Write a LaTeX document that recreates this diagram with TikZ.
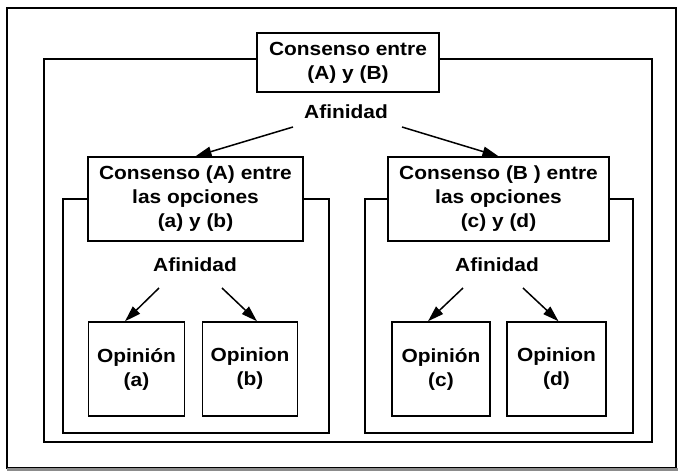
\documentclass[tikz,border=0pt]{standalone}
\usepackage{fontspec}
\setmainfont{Liberation Sans}[FakeStretch=1.1]
\usetikzlibrary{arrows.meta,calc}
\newcommand\dfs{\bfseries\fontsize{19pt}{24pt}\selectfont}
\begin{document}
\begin{tikzpicture}[x=1pt,y=-1pt,
  box/.style={draw, line width=1.5pt, inner sep=0pt, align=center, font=\dfs},
  lbl/.style={inner sep=0pt, font=\dfs},
  arr/.style={line width=1.5pt, -{Triangle[length=16pt,width=10pt]}},
  frame/.style={line width=1.5pt}]
\useasboundingbox (0,0) rectangle (680,472);
% outer frame
\draw[frame] (7,8) rectangle (676,468);
\draw[line width=3.5pt, black!45] (7,469.5) -- (678,469.5);
% top level
\node[box, minimum width=182pt, minimum height=59pt] (top) at (348,62.5) {Consenso entre\\(A) y (B)};
\node[lbl] (afT) at (346,112) {Afinidad};
\coordinate (f2) at (44,59);
\coordinate (f2r) at (652,59);
\draw[frame] (top.west |- f2) -- (f2) -- (44,442) -- (652,442) -- (f2r) -- (top.east |- f2r);
% second level
\node[box, minimum width=215pt, minimum height=84pt, fill=white] (cA) at (195.5,199) {Consenso (A) entre\\las opciones\\(a) y (b)};
\node[box, minimum width=221pt, minimum height=84pt, fill=white] (cB) at (498.5,199) {Consenso (B ) entre\\las opciones\\(c) y (d)};
\coordinate (tS1) at (293,127);
\coordinate (tS2) at (402,127);
\draw[arr] (tS1) -- (cA.north);
\draw[arr] (tS2) -- (cB.north);
% inner frames
\coordinate (fAl) at (63,199);
\coordinate (fAr) at (329,199);
\draw[frame] (cA.west) -- (fAl) -- (63,433) -- (329,433) -- (fAr) -- (cA.east);
\coordinate (fBl) at (365,199);
\coordinate (fBr) at (633,199);
\draw[frame] (cB.west) -- (fBl) -- (365,433) -- (633,433) -- (fBr) -- (cB.east);
\node[lbl] (afA) at (195,265) {Afinidad};
\node[lbl] (afB) at (497,265) {Afinidad};
% opinions
\node[box, minimum width=96pt, minimum height=94pt] (opA) at (136.5,369) {Opinión\\(a)};
\node[box, minimum width=95pt, minimum height=94pt] (opB) at (250,369) {Opinion\\(b)};
\node[box, minimum width=98pt, minimum height=94pt] (opC) at (441,369) {Opinión\\(c)};
\node[box, minimum width=99pt, minimum height=94pt] (opD) at (556.5,369) {Opinion\\(d)};
\coordinate (aS1) at (159,288);
\coordinate (aS2) at (222,288);
\coordinate (bS1) at (463,288);
\coordinate (bS2) at (523,288);
\draw[arr] (aS1) -- ($(opA.north)+(-11.5,0)$);
\draw[arr] (aS2) -- ($(opB.north)+(7,0)$);
\draw[arr] (bS1) -- ($(opC.north)+(-13,0)$);
\draw[arr] (bS2) -- ($(opD.north)+(2,0)$);
\end{tikzpicture}
\end{document}
